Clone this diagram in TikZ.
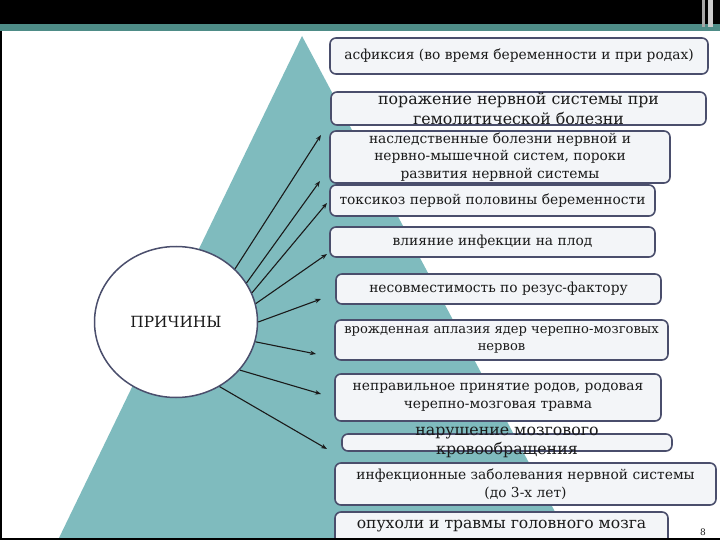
\documentclass[tikz,border=0pt]{standalone}
\usepackage{fontspec}
\setmainfont{DejaVu Serif}
\usetikzlibrary{arrows.meta, shapes.geometric, positioning}
\definecolor{TealT}  {HTML}{7FBBBE}
\definecolor{TealS}  {HTML}{4E8C87}
\definecolor{Frame}  {HTML}{4A4E6C}
\definecolor{BoxF}   {HTML}{F3F5F8}
\definecolor{Ink}    {HTML}{1A1A1A}
\tikzset{
  cbox/.style={
    rectangle, rounded corners=6pt,
    draw=Frame, fill=BoxF, text=Ink,
    font=\fontsize{13.8}{17.5}\selectfont, align=center,
    inner sep=1pt, line width=1.6pt,
  },
  btxt/.style={
    text=Ink, align=center, inner sep=0pt,
    font=\fontsize{15.8}{19.5}\selectfont,
  },
  hub/.style={
    ellipse, draw=Frame, fill=white, text=Ink,
    line width=1.5pt, font=\fontsize{15.4}{18}\selectfont,
  },
  ray/.style={
    -{Stealth[length=6pt,width=4.5pt]},
    line width=1.1pt, color=Ink,
  },
}
\begin{document}
\begin{tikzpicture}[x=1pt,y=-1pt]
  \useasboundingbox (0,0) rectangle (720,540);
  % slide frame
  \fill[white] (0,0) rectangle (720,540);
  \fill[black] (0,0) rectangle (720,24);
  \fill[TealS] (0,24) rectangle (720,31);
  \fill[gray!70] (702,0) rectangle (705,27);
  \fill[gray!40] (708,0) rectangle (713,27);
  \fill[TealT] (302,36) -- (570,540) -- (58,540) -- cycle;

  % cause boxes
  \node[cbox, minimum width=378pt, minimum height=36pt] (asf)  at (519,56)    {асфиксия (во время беременности и при родах)};
  \node[cbox, minimum width=375pt, minimum height=33pt] (por)  at (518.5,108.5) {};
  \node[btxt] (port) at (por.center) {поражение нервной системы при\\гемолитической болезни};
  \node[cbox, minimum width=340pt, minimum height=52pt] (nasl) at (500,157)  {наследственные болезни нервной и\\нервно-мышечной систем, пороки\\развития нервной системы};
  \node[cbox, minimum width=325pt, minimum height=31pt] (tox)  at (492.5,200.5) {токсикоз первой половины беременности};
  \node[cbox, minimum width=325pt, minimum height=30pt] (inf)  at (492.5,242) {влияние инфекции на плод};
  \node[cbox, minimum width=325pt, minimum height=30pt] (rez)  at (498.5,289) {несовместимость по резус-фактору};
  \node[cbox, minimum width=333pt, minimum height=40pt, font=\fontsize{13.1}{17}\selectfont] (apl) at (501.5,340) {врожденная аплазия ядер черепно-мозговых\\нервов};
  \node[cbox, minimum width=326pt, minimum height=47pt] (rod)  at (498,397.5) {неправильное принятие родов, родовая\\черепно-мозговая травма};
  \node[cbox, minimum width=330pt, minimum height=17pt] (krov) at (507,442.5) {};
  \node[btxt] (krovt) at (krov.center) {нарушение мозгового\\кровообращения};
  \node[cbox, minimum width=381pt, minimum height=42pt] (zab)  at (525.5,484) {инфекционные заболевания нервной системы\\(до 3-х лет)};
  \node[cbox, minimum width=333pt, minimum height=34pt, font=\fontsize{15.6}{18}\selectfont] (opu) at (501.5,529) {опухоли и травмы головного мозга\rule[-9pt]{0pt}{1pt}};

  % hub and rays
  \node[hub, minimum width=163pt, minimum height=151pt] (pr) at (176,322) {ПРИЧИНЫ};
  \coordinate (e1) at (321,135);
  \coordinate (e2) at (320,181);
  \coordinate (e3) at (327,203);
  \coordinate (e4) at (327,254);
  \coordinate (e5) at (321,299);
  \coordinate (e6) at (316,354);
  \coordinate (e7) at (321,394);
  \coordinate (e8) at (327,449);
  \draw[ray] (pr.42)  -- (e1);
  \draw[ray] (pr.29)  -- (e2);
  \draw[ray] (pr.21)  -- (e3);
  \draw[ray] (pr.13)  -- (e4);
  \draw[ray] (pr.0)   -- (e5);
  \draw[ray] (pr.-14) -- (e6);
  \draw[ray] (pr.-37) -- (e7);
  \draw[ray] (pr.-56) -- (e8);

  \node[font=\fontsize{9}{9}\selectfont, text=Ink] (pg) at (703,532) {8};
  \fill[black] (0,31) rectangle (2,540);
  \fill[black] (0,538) rectangle (720,540);
\end{tikzpicture}
\end{document}
